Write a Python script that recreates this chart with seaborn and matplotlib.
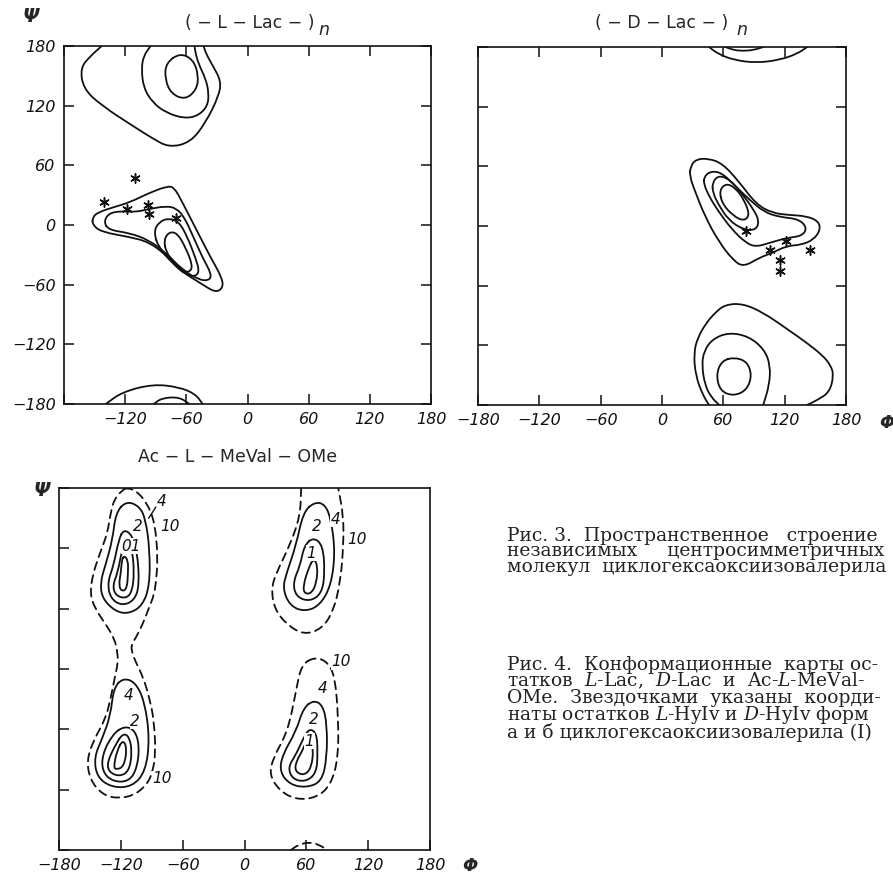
import numpy as np
import pandas as pd
import matplotlib
matplotlib.use("Agg")
import matplotlib.pyplot as plt
import seaborn as sns
from matplotlib.path import Path
from matplotlib.patches import PathPatch

sns.set_style("white")
plt.rcParams["font.family"] = ["DejaVu Sans"]
plt.rcParams["mathtext.fontset"] = "custom"
plt.rcParams["mathtext.rm"] = "DejaVu Serif"
plt.rcParams["mathtext.it"] = "DejaVu Serif:italic"

# ---------------- data: axis ticks ----------------
tick_vals = [-180, -120, -60, 0, 60, 120, 180]
tick_text = ["\u2212180", "\u2212120", "\u221260", "0", "60", "120", "180"]

# ---------------- (-L-Lac-)n contours (phi, psi) ----------------
L_top_1 = [(-143, 180), (-154, 170), (-164, 158), (-161, 137), (-143, 120), (-110, 98),
           (-93, 87), (-77, 78), (-56, 83), (-41, 103), (-28, 130), (-26, 145),
           (-34, 160), (-41, 173), (-43, 180)]
L_top_2 = [(-95, 180), (-102, 170), (-104, 157), (-102, 138), (-93, 123), (-80, 113),
           (-62, 107), (-48, 110), (-39, 120), (-38, 133), (-41, 147), (-48, 162),
           (-51, 173), (-52, 180)]
L_top_3 = [(-66, 173), (-53, 166), (-48, 150), (-50, 136), (-61, 126), (-75, 132),
           (-81, 147), (-80, 163)]
L_bot_1 = [(-139, -180), (-123, -168), (-93, -160), (-67, -163), (-51, -170), (-44, -180)]
L_bot_2 = [(-92, -180), (-84, -174), (-67, -173), (-57, -180)]
L_mid_1 = [(-152, 0), (-143, -7), (-116, -12), (-97, -17), (-80, -30), (-64, -47),
           (-44, -60), (-31, -68), (-24, -63), (-25, -53), (-36, -33), (-51, -3),
           (-64, 23), (-72, 38), (-79, 39), (-97, 32), (-115, 23), (-131, 18),
           (-146, 13), (-152, 8)]
L_mid_2 = [(-141, 3), (-136, 12), (-123, 14), (-110, 13), (-97, 16), (-80, 19),
           (-70, 17), (-62, 8), (-54, -10), (-44, -33), (-35, -50), (-38, -56),
           (-48, -55), (-64, -45), (-80, -28), (-97, -15), (-116, -8), (-136, -5)]
L_mid_3 = [(-92, -7), (-87, 3), (-77, 7), (-67, 3), (-59, -12), (-51, -33),
           (-47, -47), (-52, -52), (-61, -50), (-74, -38), (-87, -23)]
L_mid_4 = [(-82, -15), (-77, -7), (-69, -8), (-61, -22), (-54, -40), (-56, -47),
           (-62, -47), (-72, -38), (-80, -27)]
L_star_phi = [-110, -141, -118, -98, -97, -70]
L_star_psi = [47, 23, 16, 20, 11, 7]

# ---------------- (-D-Lac-)n contours ----------------
D_top_1 = [(46, 180), (55, 173), (70, 167), (92, 164), (115, 167), (132, 173), (142, 180)]
D_top_2 = [(62, 180), (70, 177), (79, 176), (90, 177), (99, 180)]
D_bot_1 = [(46, -180), (40, -170), (33, -151), (31, -128), (35, -112), (43, -98),
           (52, -87), (62, -79), (79, -78), (99, -87), (123, -104), (141, -117),
           (157, -130), (165, -140), (168, -150), (164, -167), (152, -175), (142, -180)]
D_bot_2 = [(56, -180), (48, -172), (42, -160), (39, -140), (41, -126), (49, -114),
           (65, -107), (85, -111), (100, -124), (106, -140), (105, -160), (99, -180)]
D_bot_3 = [(70, -132), (83, -136), (88, -150), (83, -165), (70, -171), (57, -166),
           (53, -150), (58, -136)]
D_mid_1 = [(28, 60), (33, 67), (45, 68), (59, 63), (75, 45), (92, 22), (108, 13),
           (125, 11), (141, 10), (153, 5), (155, -4), (148, -14), (136, -19),
           (122, -20), (108, -27), (95, -32), (80, -41), (70, -35), (55, -15),
           (42, 10), (33, 33), (27, 50)]
D_mid_2 = [(41, 49), (47, 55), (58, 54), (72, 40), (86, 26), (100, 14), (115, 9),
           (134, 7), (142, -2), (137, -10), (122, -12), (105, -17), (92, -21),
           (82, -17), (68, -3), (55, 15), (46, 30), (41, 42)]
D_mid_3 = [(49, 43), (55, 51), (66, 47), (78, 33), (90, 16), (95, 5), (92, -4),
           (80, -4), (65, 6), (55, 22), (50, 33)]
D_mid_4 = [(56, 36), (63, 43), (72, 38), (80, 27), (86, 11), (80, 5), (70, 10), (59, 22)]
D_star_phi = [82, 121, 106, 145, 115, 115]
D_star_psi = [-5, -15, -24, -24, -34, -45]

# ---------------- Ac-L-MeVal-OMe contours ----------------
M_left_10 = [(-115, 180), (-106, 178), (-95, 166), (-87, 146), (-84, 110), (-86, 85),
             (-88, 73), (-93, 60), (-99, 44), (-106, 30), (-110, 24), (-109, 16),
             (-106, 8), (-98, -9), (-92, -30), (-88, -50), (-86, -85), (-90, -105),
             (-95, -115), (-106, -125), (-122, -129), (-138, -125), (-150, -110),
             (-153, -90), (-146, -70), (-135, -50), (-130, -30), (-126, -9),
             (-123, 5), (-123, 15), (-126, 30), (-135, 45), (-145, 60), (-150, 75),
             (-147, 95), (-140, 116), (-133, 135), (-130, 155), (-126, 170), (-118, 178)]
M_lt_4 = [(-115, 167), (-102, 162), (-96, 149), (-92, 119), (-92, 83), (-99, 63),
          (-112, 55), (-125, 57), (-138, 70), (-140, 86), (-135, 103), (-128, 129),
          (-125, 155)]
M_lt_2 = [(-117, 139), (-109, 133), (-104, 116), (-102, 83), (-107, 68), (-119, 63),
          (-130, 70), (-133, 86), (-127, 103), (-122, 129)]
M_lt_1 = [(-115, 126), (-109, 119), (-107, 96), (-109, 77), (-115, 70), (-125, 73),
          (-128, 83), (-123, 96), (-119, 118)]
M_lt_0 = [(-117, 113), (-113, 108), (-113, 96), (-114, 80), (-119, 77), (-122, 83),
          (-120, 96), (-119, 108)]
M_rt_10 = [(55, 180), (54, 152), (44, 123), (31, 96), (26, 80), (29, 60), (41, 44),
           (58, 34), (75, 40), (86, 57), (93, 86), (96, 123), (96, 152), (91, 180)]
M_rb_arc = [(45, -180), (52, -175), (63, -172), (73, -175), (80, -180)]
M_rt_4 = [(68, 166), (78, 164), (84, 149), (88, 116), (84, 83), (73, 63), (58, 57),
          (44, 63), (37, 80), (41, 96), (50, 123), (57, 156)]
M_rt_2 = [(67, 131), (76, 123), (78, 96), (75, 75), (63, 67), (50, 72), (47, 86),
          (54, 103), (58, 123)]
M_rt_1 = [(67, 110), (71, 103), (70, 86), (65, 75), (58, 75), (57, 83), (62, 100)]
M_lb_4 = [(-118, -9), (-106, -13), (-97, -32), (-92, -69), (-96, -102), (-109, -117),
          (-128, -118), (-143, -108), (-146, -88), (-138, -69), (-130, -46), (-127, -19)]
M_lb_2 = [(-117, -57), (-107, -60), (-102, -75), (-104, -98), (-112, -112),
          (-128, -112), (-138, -102), (-138, -85), (-128, -65)]
M_lb_1 = [(-118, -64), (-112, -67), (-109, -82), (-112, -102), (-122, -107),
          (-132, -102), (-133, -92), (-125, -75)]
M_lb_0 = [(-118, -70), (-114, -79), (-117, -97), (-124, -100), (-127, -98), (-124, -82)]
M_rb_10 = [(68, 12), (81, 7), (88, -9), (91, -49), (91, -88), (84, -115), (70, -128),
           (50, -130), (34, -121), (24, -105), (28, -88), (42, -62), (50, -22), (55, 4)]
M_rb_4 = [(67, -31), (76, -36), (80, -55), (80, -88), (75, -112), (60, -118),
          (44, -115), (34, -102), (37, -85), (50, -62), (57, -39)]
M_rb_2 = [(63, -59), (70, -64), (71, -82), (70, -103), (60, -112), (47, -110),
          (42, -98), (50, -85), (57, -69)]
M_rb_1 = [(62, -65), (67, -79), (65, -98), (58, -106), (49, -102), (50, -92), (57, -80)]
M_label_text = ["4", "10", "2", "01", "2", "4", "10", "1", "4", "2", "10", "10", "4", "2", "1"]
M_label_phi = [-80, -72, -104, -110, 70, 88, 109, 65, -112, -106, -80, 94, 76, 67, 63]
M_label_psi = [167, 142, 142, 122, 142, 149, 129, 115, -26, -52, -109, 7, -19, -50, -72]

# ---------------- caption text (cut by the page edge in the scan) ----------------
cap3 = ["Рис. 3.  Пространственное   строение",
        "независимых     центросимметричных",
        "молекул  циклогексаоксиизовалерила"]
cap4 = ["Рис. 4.  Конформационные  карты ос-",
        "татков  $L$-Lac,  $D$-Lac  и  Ac-$L$-MeVal-",
        "OMe.  Звездочками  указаны  коорди-",
        "наты остатков $L$-HyIv и $D$-HyIv форм",
        "а и б циклогексаоксиизовалерила (I)"]

W, H = 893, 885
fig = plt.figure(figsize=(W / 100, H / 100), dpi=100)


def add_ax(l, t, r, b):
    return fig.add_axes([l / W, 1 - b / H, (r - l) / W, (b - t) / H])


def smooth_path(pts, closed):
    p = np.asarray(pts, float)
    verts, codes = [], []
    if closed:
        mids = (p + np.roll(p, -1, axis=0)) / 2
        verts.append(mids[-1]); codes.append(Path.MOVETO)
        for i in range(len(p)):
            verts += [p[i], mids[i]]
            codes += [Path.CURVE3, Path.CURVE3]
    else:
        mids = (p[:-1] + p[1:]) / 2
        verts += [p[0], mids[0]]
        codes += [Path.MOVETO, Path.LINETO]
        for i in range(1, len(p) - 1):
            verts += [p[i], mids[i]]
            codes += [Path.CURVE3, Path.CURVE3]
        verts.append(p[-1]); codes.append(Path.LINETO)
    return Path(verts, codes)


def draw(ax, pts, closed=True, dashed=False, lw=1.3):
    ls = (0, (4.5, 3)) if dashed else "-"
    ax.add_patch(PathPatch(smooth_path(pts, closed), fill=False, lw=lw,
                           ec="#111111", linestyle=ls, joinstyle="round", capstyle="round"))


def setup(ax, xlabels, ylabels, all_sides=True):
    ax.set_xlim(-180, 180)
    ax.set_ylim(-180, 180)
    ax.set_xticks(tick_vals)
    ax.set_yticks(tick_vals)
    ax.set_xticklabels(xlabels, fontsize=11.5, style="italic")
    ax.set_yticklabels(ylabels, fontsize=11.5, style="italic")
    for s in ax.spines.values():
        s.set_visible(True)
        s.set_linewidth(1.2)
        s.set_color("#111111")
    ax.tick_params(direction="in", length=7, width=1.1, color="#111111",
                   top=all_sides, right=all_sides, bottom=True, left=True,
                   pad=6, labelcolor="#111111")
    ax.set_facecolor("white")


ax1 = add_ax(64, 46, 431, 404)
ax2 = add_ax(478, 47, 846, 405)
ax3 = add_ax(59, 488, 430, 850)

setup(ax1, [""] + tick_text[1:], tick_text)
setup(ax2, tick_text, [""] * 7)
setup(ax3, tick_text, [""] * 7, all_sides=False)

for c in [L_top_3, L_mid_1, L_mid_2, L_mid_3, L_mid_4]:
    draw(ax1, c)
for c in [L_top_1, L_top_2, L_bot_1, L_bot_2]:
    draw(ax1, c, closed=False)

for c in [D_bot_3, D_mid_1, D_mid_2, D_mid_3, D_mid_4]:
    draw(ax2, c)
for c in [D_top_1, D_top_2, D_bot_1, D_bot_2]:
    draw(ax2, c, closed=False)

draw(ax3, M_left_10, dashed=True)
draw(ax3, M_rb_10, dashed=True)
draw(ax3, M_rt_10, closed=False, dashed=True)
draw(ax3, M_rb_arc, closed=False, dashed=True)
for c in [M_lt_4, M_lt_2, M_lt_1, M_lt_0, M_rt_4, M_rt_2, M_rt_1,
          M_lb_4, M_lb_2, M_lb_1, M_lb_0, M_rb_4, M_rb_2, M_rb_1]:
    draw(ax3, c)

for t, x, y in zip(M_label_text, M_label_phi, M_label_psi):
    ax3.text(x, y, t, fontsize=11, style="italic", ha="center", va="center",
             color="#111111", bbox=dict(fc="white", ec="none", pad=0.3))
ax3.plot([-93, -86], [150, 161], color="#111111", lw=1.0)

stars_L = pd.DataFrame({"phi": L_star_phi, "psi": L_star_psi})
stars_D = pd.DataFrame({"phi": D_star_phi, "psi": D_star_psi})
sns.scatterplot(data=stars_L, x="phi", y="psi", ax=ax1, marker=(6, 2, 0), s=45,
                color="#111111", linewidth=1.1, zorder=5, legend=False)
sns.scatterplot(data=stars_D, x="phi", y="psi", ax=ax2, marker=(6, 2, 0), s=45,
                color="#111111", linewidth=1.1, zorder=5, legend=False)
for ax in (ax1, ax2, ax3):
    ax.set_xlabel("")
    ax.set_ylabel("")


def ftext(x, y, s, **kw):
    fig.text(x / W, 1 - y / H, s, **kw)


# titles and axis symbols
ftext(250, 23, "( \u2212 L \u2212 Lac \u2212 )", fontsize=12.5, ha="center", va="center")
ftext(324, 30, "n", fontsize=12.5, style="italic", ha="center", va="center")
ftext(662, 23, "( \u2212 D \u2212 Lac \u2212 )", fontsize=12.5, ha="center", va="center")
ftext(742, 30, "n", fontsize=12.5, style="italic", ha="center", va="center")
ftext(238, 457, "Ac \u2212 L \u2212 MeVal \u2212 OMe", fontsize=12.5, ha="center", va="center")
ftext(31, 17, "\u03a8", fontsize=14, style="italic", weight="bold", ha="center", va="center")
ftext(42, 490, "\u03a8", fontsize=14, style="italic", weight="bold", ha="center", va="center")
ftext(887, 423, "\u03a6", fontsize=13, style="italic", weight="bold", ha="center", va="center")
ftext(470, 866, "\u03a6", fontsize=13, style="italic", weight="bold", ha="center", va="center")

# captions as multi-line text blocks
ftext(507, 527, "\n".join(cap3), fontsize=13.5, family="DejaVu Serif", va="top",
      ha="left", linespacing=0.82, color="#222222")
ftext(507, 656, "\n".join(cap4), fontsize=13.5, family="DejaVu Serif", va="top",
      ha="left", linespacing=0.82, color="#222222")

fig.savefig("out.png", dpi=100, facecolor="white")
